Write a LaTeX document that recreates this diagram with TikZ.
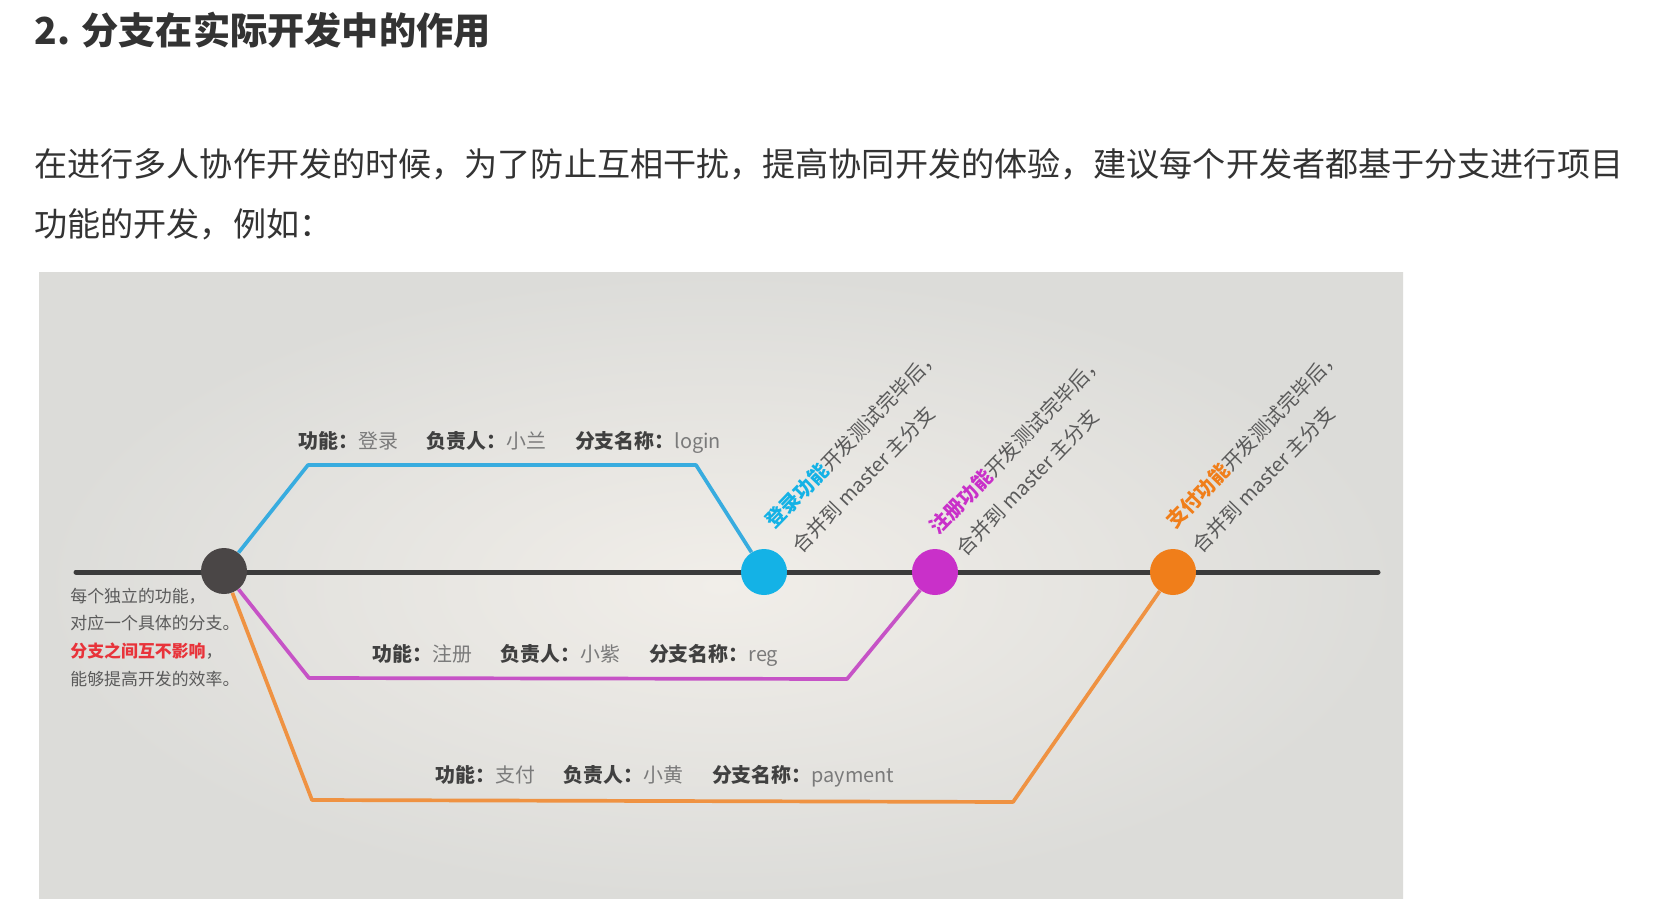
\documentclass[tikz,border=0pt]{standalone}
\usepackage{fontspec}
\setmainfont{Noto Sans CJK SC}
\usetikzlibrary{calc}
\definecolor{bgin}{HTML}{F1EEE9}
\definecolor{bgout}{HTML}{DCDCD9}
\definecolor{mainc}{HTML}{3B3B3B}
\definecolor{darkball}{HTML}{4A4646}
\definecolor{bluec}{HTML}{14B2E6}
\definecolor{bluel}{HTML}{38ACDF}
\definecolor{magc}{HTML}{C930C9}
\definecolor{magl}{HTML}{C653C6}
\definecolor{orac}{HTML}{F07E1A}
\definecolor{oral}{HTML}{EF9242}
\definecolor{keyc}{HTML}{404040}
\definecolor{valc}{HTML}{7A7A7A}
\definecolor{redc}{HTML}{E8333A}
\definecolor{bodyc}{HTML}{333333}
\definecolor{notec}{HTML}{5A5A5A}
\newcommand\lkey[1]{{\bfseries\color{keyc}#1}}
\newcommand\lval[1]{{\color{valc}#1}}
\newcommand\lgap{\hspace{1.45em}}
\begin{document}
\begin{tikzpicture}[x=0.5pt,y=-0.5pt,
  ball/.style={circle,inner sep=0pt,minimum size=23pt,draw=none},
  branch/.style={line width=1.85pt,line join=round},
  lab/.style={anchor=west,inner sep=0pt,font=\fontsize{9.95}{12}\selectfont},
  note/.style={anchor=west,inner sep=0pt,text=notec,font=\fontsize{8.45}{10}\selectfont},
  rot/.style={anchor=south west,inner sep=0pt,rotate=46,text=notec,font=\fontsize{10}{12}\selectfont},
  body/.style={anchor=west,inner sep=0pt,text=bodyc,font=\fontsize{16.55}{20}\selectfont}]
\useasboundingbox (0,0) rectangle (1654,899);
\fill[white] (0,0) rectangle (1654,899);
\shade[inner color=bgin,outer color=bgout] (39,272) rectangle (1403,899);

% texts above the picture
\node[body,font=\fontsize{18.6}{22}\selectfont\bfseries] (title) at (34,30) {2. 分支在实际开发中的作用};
\node[body] (p1) at (34,164) {在进行多人协作开发的时候，为了防止互相干扰，提高协同开发的体验，建议每个开发者都基于分支进行项目};
\node[body] (p2) at (34,224) {功能的开发，例如：};

% main line
\coordinate (m0) at (76,572);
\coordinate (m1) at (1378,572);
\draw[mainc,line width=2.5pt,line cap=round] (m0) -- (m1);

% commits
\node[ball,fill=darkball] (base) at (224,571) {};
\node[ball,fill=bluec] (login) at (764,572) {};
\node[ball,fill=magc] (reg) at (935,572) {};
\node[ball,fill=orac] (pay) at (1173,572) {};

% branches
\coordinate (bA1) at (308,465);
\coordinate (bA2) at (696,465);
\coordinate (bB1) at (309,678);
\coordinate (bB2) at (847,679);
\coordinate (bC1) at (312,800);
\coordinate (bC2) at (1013,802);
\draw[branch,bluel] (base) -- (bA1) -- (bA2) -- (login);
\draw[branch,magl] (base) -- (bB1) -- (bB2) -- (reg);
\draw[branch,oral] (base) -- (bC1) -- (bC2) -- (pay);

% branch labels
\node[lab] (labA) at (298,442) {\lkey{功能：}\lval{登录}\lgap\lkey{负责人：}\lval{小兰}\lgap\lkey{分支名称：}\lval{login}};
\node[lab] (labB) at (372,655) {\lkey{功能：}\lval{注册}\lgap\lkey{负责人：}\lval{小紫}\lgap\lkey{分支名称：}\lval{reg}};
\node[lab] (labC) at (435,776) {\lkey{功能：}\lval{支付}\lgap\lkey{负责人：}\lval{小黄}\lgap\lkey{分支名称：}\lval{payment}};

% note on the left
\node[note] (n1) at (70,596) {每个独立的功能，};
\node[note] (n2) at (70,623) {对应一个具体的分支。};
\node[note] (n3) at (70,651) {{\bfseries\color{redc}分支之间互不影响}，};
\node[note] (n4) at (70,679) {能够提高开发的效率。};

% merge notes
\node[rot] (tA1) at ($(login)+(12,-40)$) {{\bfseries\color{bluec}登录功能}开发测试完毕后，};
\node[rot] (tA2) at ($(login)+(39,-16)$) {合并到 master 主分支};
\node[rot] (tB1) at ($(reg)+(5,-34)$) {{\bfseries\color{magc}注册功能}开发测试完毕后，};
\node[rot] (tB2) at ($(reg)+(32,-13)$) {合并到 master 主分支};
\node[rot] (tC1) at ($(pay)+(4,-40)$) {{\bfseries\color{orac}支付功能}开发测试完毕后，};
\node[rot] (tC2) at ($(pay)+(30,-16)$) {合并到 master 主分支};
\end{tikzpicture}
\end{document}
